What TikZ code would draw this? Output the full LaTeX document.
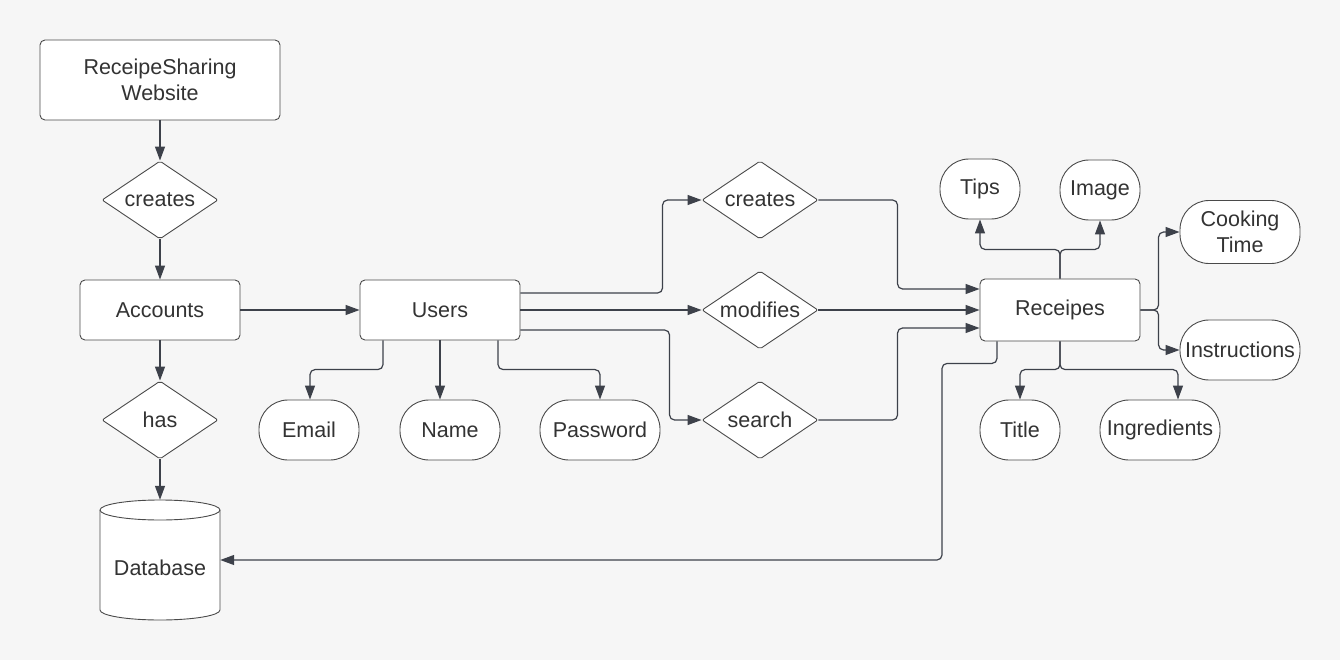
\documentclass[tikz,border=0pt]{standalone}
\usepackage{fontspec}
\setmainfont{Liberation Sans}
\usetikzlibrary{shapes.geometric,arrows.meta,calc}
\definecolor{bg}{HTML}{F6F6F6}
\definecolor{ln}{HTML}{3D414A}
\definecolor{bd}{HTML}{4A4A4A}
\definecolor{tx}{HTML}{333333}
\begin{document}
\begin{tikzpicture}[x=1pt,y=-1pt,
  every node/.style={font=\fontsize{21.5}{26.5}\selectfont, text=tx},
  box/.style={draw=bd, fill=white, line width=0.9pt, rounded corners=5pt, minimum width=160pt, minimum height=60pt, inner sep=0pt, align=center},
  diam/.style={draw=bd, fill=white, line width=0.9pt, diamond, minimum width=116pt, minimum height=78pt, inner sep=0pt, rounded corners=2pt},
  attr/.style={draw=bd, fill=white, line width=0.9pt, rounded corners=29pt, minimum height=60pt, inner sep=0pt, align=center},
  conn/.style={draw=ln, line width=1.2pt, rounded corners=5pt, -{Triangle[length=14pt,width=10pt]}}]
\fill[bg] (0,0) rectangle (1340,660);
\useasboundingbox (0,0) rectangle (1340,660);

% nodes
\node[box, minimum width=240pt, minimum height=80pt] (site) at (160,80) {ReceipeSharing\\Website};
\node[diam] (cr1) at (160,200) {\makebox[0pt]{creates}};
\node[box] (acc) at (160,310) {Accounts};
\node[diam] (has) at (160,420) {\makebox[0pt]{has}};
\node[minimum width=120pt, minimum height=120pt, inner sep=0pt] (db) at (160,560) {};
\filldraw[draw=bd, fill=white, line width=0.9pt] (100,510) -- (100,610) arc[start angle=180, end angle=360, x radius=60pt, y radius=10pt] -- (220,510) arc[start angle=0, end angle=180, x radius=60pt, y radius=10pt] -- cycle;
\draw[bd, line width=0.9pt] (100,510) arc[start angle=180, end angle=360, x radius=60pt, y radius=10pt];
\node (dbt) at (160,568) {Database};

\node[box] (users) at (440,310) {Users};
\node[attr, minimum width=100pt] (email) at (309,430) {Email};
\node[attr, minimum width=100pt] (name) at (450,430) {Name};
\node[attr, minimum width=120pt] (pw) at (600,430) {Password};

\node[diam] (cr2) at (760,200) {\makebox[0pt]{creates}};
\node[diam] (mod) at (760,310) {\makebox[0pt]{modifies}};
\node[diam] (srch) at (760,420) {\makebox[0pt]{search}};

\node[box, minimum height=62pt] (rec) at (1060,310) {Receipes};
\node[attr, minimum width=80pt] (tips) at (980,189) {Tips};
\node[attr, minimum width=80pt] (img) at (1100,190) {Image};
\node[attr, minimum width=120pt, minimum height=63pt] (cook) at (1240,232) {Cooking\\Time};
\node[attr, minimum width=120pt] (instr) at (1240,350) {Instructions};
\node[attr, minimum width=80pt] (title) at (1020,430) {Title};
\node[attr, minimum width=120pt] (ingr) at (1160,430) {Ingredients};

% connectors
\draw[conn] (site) -- (cr1);
\draw[conn] (cr1) -- (acc);
\draw[conn] (acc) -- (users);
\draw[conn] (acc) -- (has);
\draw[conn] (has) -- (db);

\draw[conn] ($(users.east)+(0,-17)$) -| ($(cr2.west)+(-39,0)$) -- (cr2.west);
\draw[conn] (users.east) -- (mod.west);
\draw[conn] ($(users.east)+(0,20)$) -| ($(srch.west)+(-32,0)$) -- (srch.west);

\draw[conn] ($(users.south)+(-57,0)$) |- ($(email.north)+(1,-30)$) -- ($(email.north)+(1,0)$);
\draw[conn] (users.south) -- (users.south |- name.north);
\draw[conn] ($(users.south)+(58,0)$) |- ($(pw.north)+(0,-30)$) -- (pw.north);

\draw[conn] (cr2.east) -| ($(rec.west)+(-82,-21)$) -- ($(rec.west)+(0,-21)$);
\draw[conn] (mod.east) -- (rec.west);
\draw[conn] (srch.east) -| ($(rec.west)+(-82,18)$) -- ($(rec.west)+(0,18)$);

\draw[conn] ($(rec.south)+(-63,0)$) |- ($(rec.south)+(-118,22)$) |- (db.east);

\draw[conn] (rec.north) |- ($(tips.south)+(0,30)$) -- (tips.south);
\draw[conn] (rec.north) |- ($(img.south)+(0,29)$) -- (img.south);
\draw[conn] (rec.east) -| ($(cook.west)+(-21,0)$) -- (cook.west);
\draw[conn] (rec.east) -| ($(instr.west)+(-21,0)$) -- (instr.west);
\draw[conn] (rec.south) |- ($(title.north)+(0,-30)$) -- (title.north);
\draw[conn] (rec.south) |- ($(ingr.north)+(18,-30)$) -- ($(ingr.north)+(18,0)$);
\end{tikzpicture}
\end{document}
